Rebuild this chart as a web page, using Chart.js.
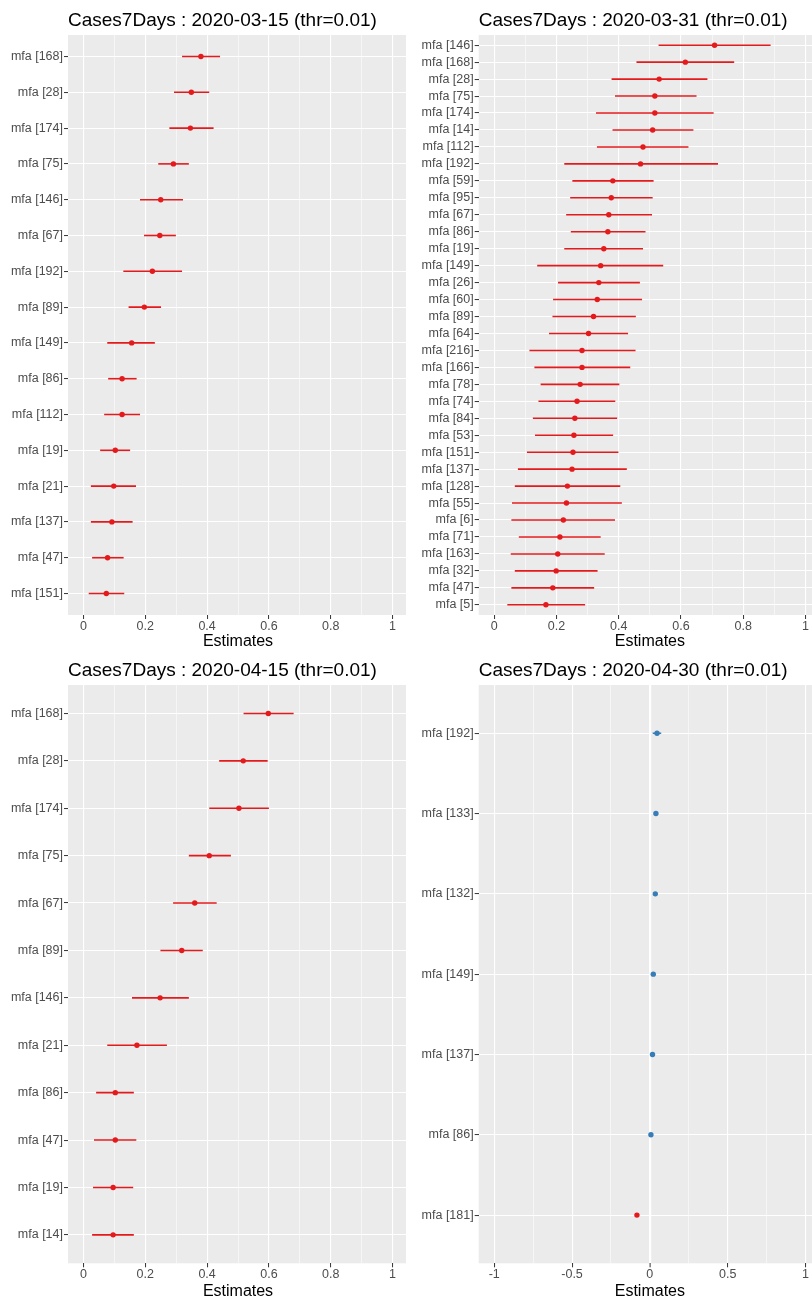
<!DOCTYPE html>
<html lang="en">
<head>
  <meta charset="UTF-8" />
  <title>Cases7Days estimates</title>
  <script src="https://cdn.jsdelivr.net/npm/chart.js"></script>
  <style>
    body { margin: 0; background: #fff; }
    #page { position: relative; width: 812px; height: 1302px; }
    .cell { position: absolute; overflow: hidden; width: 406px; height: 650px; }
    .cell canvas { display: block; }
  </style>
</head>
<body>
<div id="page">
  <div class="cell" style="left:0;top:0"><canvas id="c1" width="408" height="650"></canvas></div>
  <div class="cell" style="left:406px;top:0"><canvas id="c2" width="415" height="650"></canvas></div>
  <div class="cell" style="left:0;top:650px;height:652px"><canvas id="c3" width="408" height="650"></canvas></div>
  <div class="cell" style="left:406px;top:650px;height:652px"><canvas id="c4" width="415" height="650"></canvas></div>
</div>

<script>
// --- data ---
const p1Labels = ['mfa [168]', 'mfa [28]', 'mfa [174]', 'mfa [75]', 'mfa [146]', 'mfa [67]', 'mfa [192]', 'mfa [89]',
  'mfa [149]', 'mfa [86]', 'mfa [112]', 'mfa [19]', 'mfa [21]', 'mfa [137]', 'mfa [47]', 'mfa [151]'];
const p1Est  = [0.380, 0.349, 0.346, 0.291, 0.250, 0.247, 0.223, 0.197, 0.156, 0.125, 0.125, 0.103, 0.098, 0.092, 0.078, 0.074];
const p1Low  = [0.319, 0.293, 0.278, 0.242, 0.183, 0.196, 0.129, 0.146, 0.077, 0.080, 0.067, 0.054, 0.024, 0.024, 0.028, 0.017];
const p1High = [0.442, 0.407, 0.421, 0.341, 0.322, 0.299, 0.319, 0.251, 0.231, 0.172, 0.183, 0.151, 0.170, 0.159, 0.130, 0.132];

const p2Labels = ['mfa [146]', 'mfa [168]', 'mfa [28]', 'mfa [75]', 'mfa [174]', 'mfa [14]', 'mfa [112]', 'mfa [192]',
  'mfa [59]', 'mfa [95]', 'mfa [67]', 'mfa [86]', 'mfa [19]', 'mfa [149]', 'mfa [26]', 'mfa [60]', 'mfa [89]',
  'mfa [64]', 'mfa [216]', 'mfa [166]', 'mfa [78]', 'mfa [74]', 'mfa [84]', 'mfa [53]', 'mfa [151]', 'mfa [137]',
  'mfa [128]', 'mfa [55]', 'mfa [6]', 'mfa [71]', 'mfa [163]', 'mfa [32]', 'mfa [47]', 'mfa [5]'];
const p2Est  = [0.708, 0.614, 0.530, 0.516, 0.516, 0.509, 0.478, 0.470, 0.381, 0.376, 0.368, 0.365, 0.352, 0.342, 0.336, 0.331, 0.319,
  0.303, 0.282, 0.282, 0.276, 0.266, 0.259, 0.256, 0.253, 0.250, 0.235, 0.232, 0.222, 0.211, 0.204, 0.199, 0.188, 0.166];
const p2Low  = [0.528, 0.457, 0.377, 0.388, 0.327, 0.380, 0.330, 0.225, 0.251, 0.244, 0.231, 0.246, 0.225, 0.138, 0.205, 0.189, 0.187,
  0.176, 0.113, 0.129, 0.149, 0.142, 0.124, 0.131, 0.105, 0.076, 0.066, 0.057, 0.055, 0.079, 0.053, 0.066, 0.055, 0.042];
const p2High = [0.888, 0.771, 0.685, 0.650, 0.705, 0.640, 0.624, 0.719, 0.512, 0.509, 0.507, 0.486, 0.478, 0.543, 0.468, 0.475, 0.455,
  0.430, 0.454, 0.437, 0.402, 0.389, 0.395, 0.382, 0.399, 0.426, 0.405, 0.410, 0.388, 0.342, 0.355, 0.332, 0.321, 0.292];

const p3Labels = ['mfa [168]', 'mfa [28]', 'mfa [174]', 'mfa [75]', 'mfa [67]', 'mfa [89]', 'mfa [146]', 'mfa [21]',
  'mfa [86]', 'mfa [47]', 'mfa [19]', 'mfa [14]'];
const p3Est  = [0.598, 0.517, 0.503, 0.407, 0.360, 0.318, 0.248, 0.173, 0.103, 0.103, 0.096, 0.096];
const p3Low  = [0.518, 0.439, 0.407, 0.341, 0.290, 0.249, 0.157, 0.077, 0.041, 0.034, 0.031, 0.028];
const p3High = [0.680, 0.596, 0.600, 0.477, 0.431, 0.386, 0.341, 0.270, 0.163, 0.171, 0.161, 0.163];

const p4Labels = ['mfa [192]', 'mfa [133]', 'mfa [132]', 'mfa [149]', 'mfa [137]', 'mfa [86]', 'mfa [181]'];
const p4Est  = [0.046, 0.039, 0.035, 0.022, 0.017, 0.007, -0.083];
const p4Low  = [0.018, 0.029, 0.025, 0.012, 0.007, -0.003, -0.093];
const p4High = [0.073, 0.049, 0.045, 0.032, 0.027, 0.017, -0.073];

// x ticks
const xMajor01 = [0, 0.2, 0.4, 0.6, 0.8, 1];
const xMinor01 = [0.1, 0.3, 0.5, 0.7, 0.9];
const xMajor11 = [-1, -0.5, 0, 0.5, 1];
const xMinor11 = [-0.75, -0.25, 0.25, 0.75];

const RED = '#E41A1C';
const BLUE = '#377EB8';
const FONT = '"Liberation Sans", Arial, Helvetica, sans-serif';

Chart.defaults.font.family = FONT;

// grey panel + left aligned title (ggplot style)
const ggPanel = {
  id: 'ggPanel',
  beforeDraw(chart, args, opts) {
    const { ctx, chartArea: a } = chart;
    ctx.save();
    ctx.fillStyle = '#EBEBEB';
    ctx.fillRect(a.left, a.top, a.right - a.left, a.bottom - a.top);
    ctx.fillStyle = '#000';
    ctx.font = '19px ' + FONT;
    ctx.textBaseline = 'middle';
    ctx.textAlign = 'left';
    ctx.fillText(opts.text, a.left, 20.5);
    ctx.restore();
  }
};

function drawPanel(id, p) {
  const n = p.labels.length;
  const colorFor = v => (p.bySign && v > 0) ? BLUE : RED;
  const isMajor = v => p.major.some(m => Math.abs(m - v) < 1e-9);

  // whiskers: one line dataset, broken by empty points
  const whiskers = [];
  p.labels.forEach((_, i) => {
    whiskers.push({ x: p.low[i], y: i }, { x: p.high[i], y: i }, { x: null, y: null });
  });

  new Chart(document.getElementById(id), {
    type: 'scatter',
    data: {
      datasets: [
        {
          data: whiskers,
          showLine: true,
          spanGaps: false,
          pointRadius: 0,
          borderWidth: 1.6,
          borderColor: RED,
          segment: { borderColor: c => colorFor(p.est[Math.floor(c.p0DataIndex / 3)]) }
        },
        {
          data: p.est.map((v, i) => ({ x: v, y: i })),
          pointRadius: 2.7,
          pointBorderWidth: 0,
          pointBackgroundColor: c => colorFor(p.est[c.dataIndex])
        }
      ]
    },
    options: {
      responsive: false,
      animation: false,
      events: [],
      layout: { autoPadding: false, padding: { top: 35, left: 0, right: 0, bottom: 0 } },
      plugins: {
        legend: { display: false },
        tooltip: { enabled: false },
        ggPanel: { text: p.title }
      },
      scales: {
        x: {
          type: 'linear',
          min: p.xMin,
          max: p.xMax,
          afterBuildTicks: s => { s.ticks = p.major.concat(p.minor).sort((a, b) => a - b).map(v => ({ value: v })); },
          afterFit: s => { s.height = p.xAxisH; s.paddingLeft = 0; s.paddingRight = 0; },
          border: { display: false },
          grid: {
            color: '#FFFFFF',
            lineWidth: c => {
              const v = c.tick ? c.tick.value : 0;
              if (p.zeroLine && v === 0) return 2.2;
              return isMajor(v) ? 1.1 : 0.55;
            },
            tickColor: c => (c.tick && isMajor(c.tick.value)) ? '#333333' : 'rgba(0,0,0,0)',
            tickLength: 4,
            tickWidth: 1
          },
          ticks: {
            autoSkip: false,
            maxRotation: 0,
            padding: 0,
            color: '#4D4D4D',
            font: { size: 12.5 },
            callback: v => isMajor(v) ? String(v) : ''
          },
          title: {
            display: true,
            text: 'Estimates',
            color: '#000',
            font: { size: 16, lineHeight: 1 },
            padding: { top: 0, bottom: 0 }
          }
        },
        y: {
          type: 'linear',
          reverse: true,
          min: -0.6,
          max: n - 0.4,
          afterBuildTicks: s => { s.ticks = p.labels.map((_, i) => ({ value: i })); },
          afterFit: s => { s.width = p.yAxisW; s.paddingTop = 0; s.paddingBottom = 0; },
          border: { display: false },
          grid: {
            color: '#FFFFFF',
            lineWidth: 1.1,
            tickColor: '#333333',
            tickLength: 4,
            tickWidth: 1
          },
          ticks: {
            autoSkip: false,
            padding: 1,
            color: '#4D4D4D',
            font: { size: 12.5 },
            callback: v => p.labels[v]
          }
        }
      }
    },
    plugins: [ggPanel]
  });
}

drawPanel('c1', {
  title: 'Cases7Days : 2020-03-15 (thr=0.01)',
  labels: p1Labels, est: p1Est, low: p1Low, high: p1High,
  xMin: -0.05, xMax: 1.05, major: xMajor01, minor: xMinor01,
  yAxisW: 68, xAxisH: 35
});

drawPanel('c2', {
  title: 'Cases7Days : 2020-03-31 (thr=0.01)',
  labels: p2Labels, est: p2Est, low: p2Low, high: p2High,
  xMin: -0.05, xMax: 1.05, major: xMajor01, minor: xMinor01,
  yAxisW: 72.7, xAxisH: 35
});

drawPanel('c3', {
  title: 'Cases7Days : 2020-04-15 (thr=0.01)',
  labels: p3Labels, est: p3Est, low: p3Low, high: p3High,
  xMin: -0.05, xMax: 1.05, major: xMajor01, minor: xMinor01,
  yAxisW: 68, xAxisH: 36.7
});

drawPanel('c4', {
  title: 'Cases7Days : 2020-04-30 (thr=0.01)',
  labels: p4Labels, est: p4Est, low: p4Low, high: p4High,
  xMin: -1.1, xMax: 1.1, major: xMajor11, minor: xMinor11,
  yAxisW: 72.7, xAxisH: 36.7, bySign: true, zeroLine: true
});
</script>
</body>
</html>
